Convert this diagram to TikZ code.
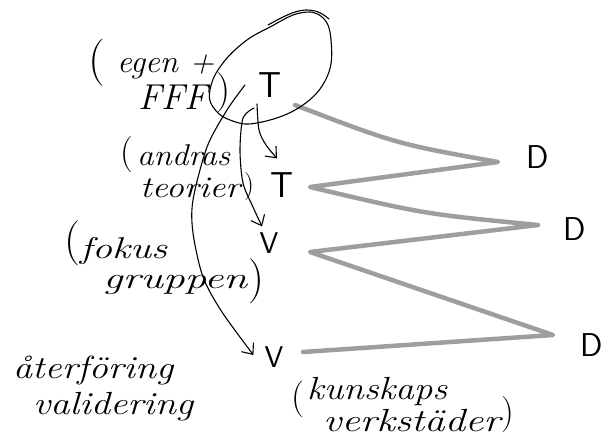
\documentclass[tikz,border=0pt]{standalone}
\usepackage{fontspec}
\usepackage{graphicx}
\usetikzlibrary{arrows.meta}
\newcommand\hwbox[2]{\resizebox{#1pt}{\height}{#2}}
\begin{document}
\begin{tikzpicture}[x=1pt,y=-1pt,
  pen/.style={line width=1.1pt, black, line cap=round},
  arr/.style={pen, -{Straight Barb[length=9pt,width=15pt,line width=1.1pt]}},
  zig/.style={line width=4.5pt, black!38, line cap=round, line join=round},
  word/.style={anchor=base west, inner sep=0pt, font=\fontsize{32}{36}\selectfont\itshape},
  paren/.style={inner sep=0pt},
  letter/.style={inner sep=1pt, font=\fontsize{36}{40}\selectfont\sffamily}]
\useasboundingbox (0,0) rectangle (605,437);

% single letters
\node[letter] (T1) at (270,85) {T};
\node[letter] (T2) at (282,185) {T};
\node[letter, font=\fontsize{30}{34}\selectfont\sffamily] (V1) at (269,243) {V};
\node[letter, font=\fontsize{30}{34}\selectfont\sffamily] (V2) at (274,357) {V};
\node[letter, font=\fontsize{33}{36}\selectfont\sffamily] (D1) at (538,157) {D};
\node[letter, font=\fontsize{33}{36}\selectfont\sffamily] (D2) at (575,229) {D};
\node[letter, font=\fontsize{33}{36}\selectfont\sffamily] (D3) at (592,345) {D};

% handwritten words
\node[word] (egen) at (117,72) {\hwbox{97}{egen +}};
\node[word, font=\fontsize{36}{40}\selectfont\itshape] (fff) at (138,109) {\hwbox{70}{FFF}};
\node[word, font=\fontsize{30}{34}\selectfont\itshape] (andras) at (137,165) {\hwbox{93}{andras}};
\node[word, font=\fontsize{30}{34}\selectfont\itshape] (teorier) at (140,197) {\hwbox{100}{teorier}};
\node[word, font=\fontsize{30}{34}\selectfont\itshape] (fokus) at (80,258) {\hwbox{87}{fokus}};
\node[word, font=\fontsize{30}{34}\selectfont\itshape] (gruppen) at (103,288) {\hwbox{144}{gruppen}};
\node[word] (aterforing) at (13,378) {\hwbox{160}{återföring}};
\node[word] (validering) at (33,414) {\hwbox{160}{validering}};
\node[word] (kunskaps) at (307,399) {\hwbox{140}{kunskaps}};
\node[word] (verkstader) at (323,431) {\hwbox{177}{verkstäder}};

% tall brackets
\node[paren, font=\fontsize{47}{50}\selectfont] (p1) at (97,63) {(};
\node[paren, font=\fontsize{40}{44}\selectfont] (p2) at (224,93) {)};
\node[paren, font=\fontsize{36}{40}\selectfont] (p3) at (127,155) {(};
\node[paren, font=\fontsize{28}{32}\selectfont] (p4) at (249,187) {)};
\node[paren, font=\fontsize{45}{48}\selectfont] (p5) at (72,243) {(};
\node[paren, font=\fontsize{45}{48}\selectfont] (p6) at (256,281) {)};
\node[paren, font=\fontsize{37}{40}\selectfont] (p7) at (298,399) {(};
\node[paren, font=\fontsize{36}{40}\selectfont] (p8) at (508,415) {)};

% zigzag
\coordinate (z0) at (295,105);
\coordinate (z1) at (498,162);
\coordinate (z2) at (310,187);
\coordinate (z3) at (538,225);
\coordinate (z4) at (310,252);
\coordinate (z5) at (553,335);
\coordinate (z6) at (303,352);
\draw[zig] (z0) .. controls (397,144) .. (z1) -- (z2) .. controls (424,214) .. (z3) -- (z4) -- (z5) -- (z6);

% loop around the first T
\draw[pen] plot[smooth cycle, tension=0.7] coordinates {(270,27) (300,13) (322,17) (331,40) (327,77) (300,107) (257,123) (230,120) (213,107) (210,90) (220,67) (243,43)};
\draw[pen] plot[smooth, tension=0.7] coordinates {(268,25) (295,12) (315,11) (329,19)};

% arrows
\coordinate (a1s) at (257,104);
\coordinate (a2s) at (254,108);
\coordinate (a3s) at (245,85);
\draw[arr] plot[smooth] coordinates {(a1s) (259,130) (266,145) ([xshift=-5pt,yshift=13pt]T2.north)};
\draw[arr] plot[smooth] coordinates {(a2s) (243,118) (240,150) (243,183) (253,207) ([xshift=-7pt,yshift=5pt]V1.north)};
\draw[arr] plot[smooth] coordinates {(a3s) (227,110) (207,147) (193,200) (193,233) (203,277) (222,312) ([xshift=-10pt,yshift=2pt]V2.west)};
\end{tikzpicture}
\end{document}
